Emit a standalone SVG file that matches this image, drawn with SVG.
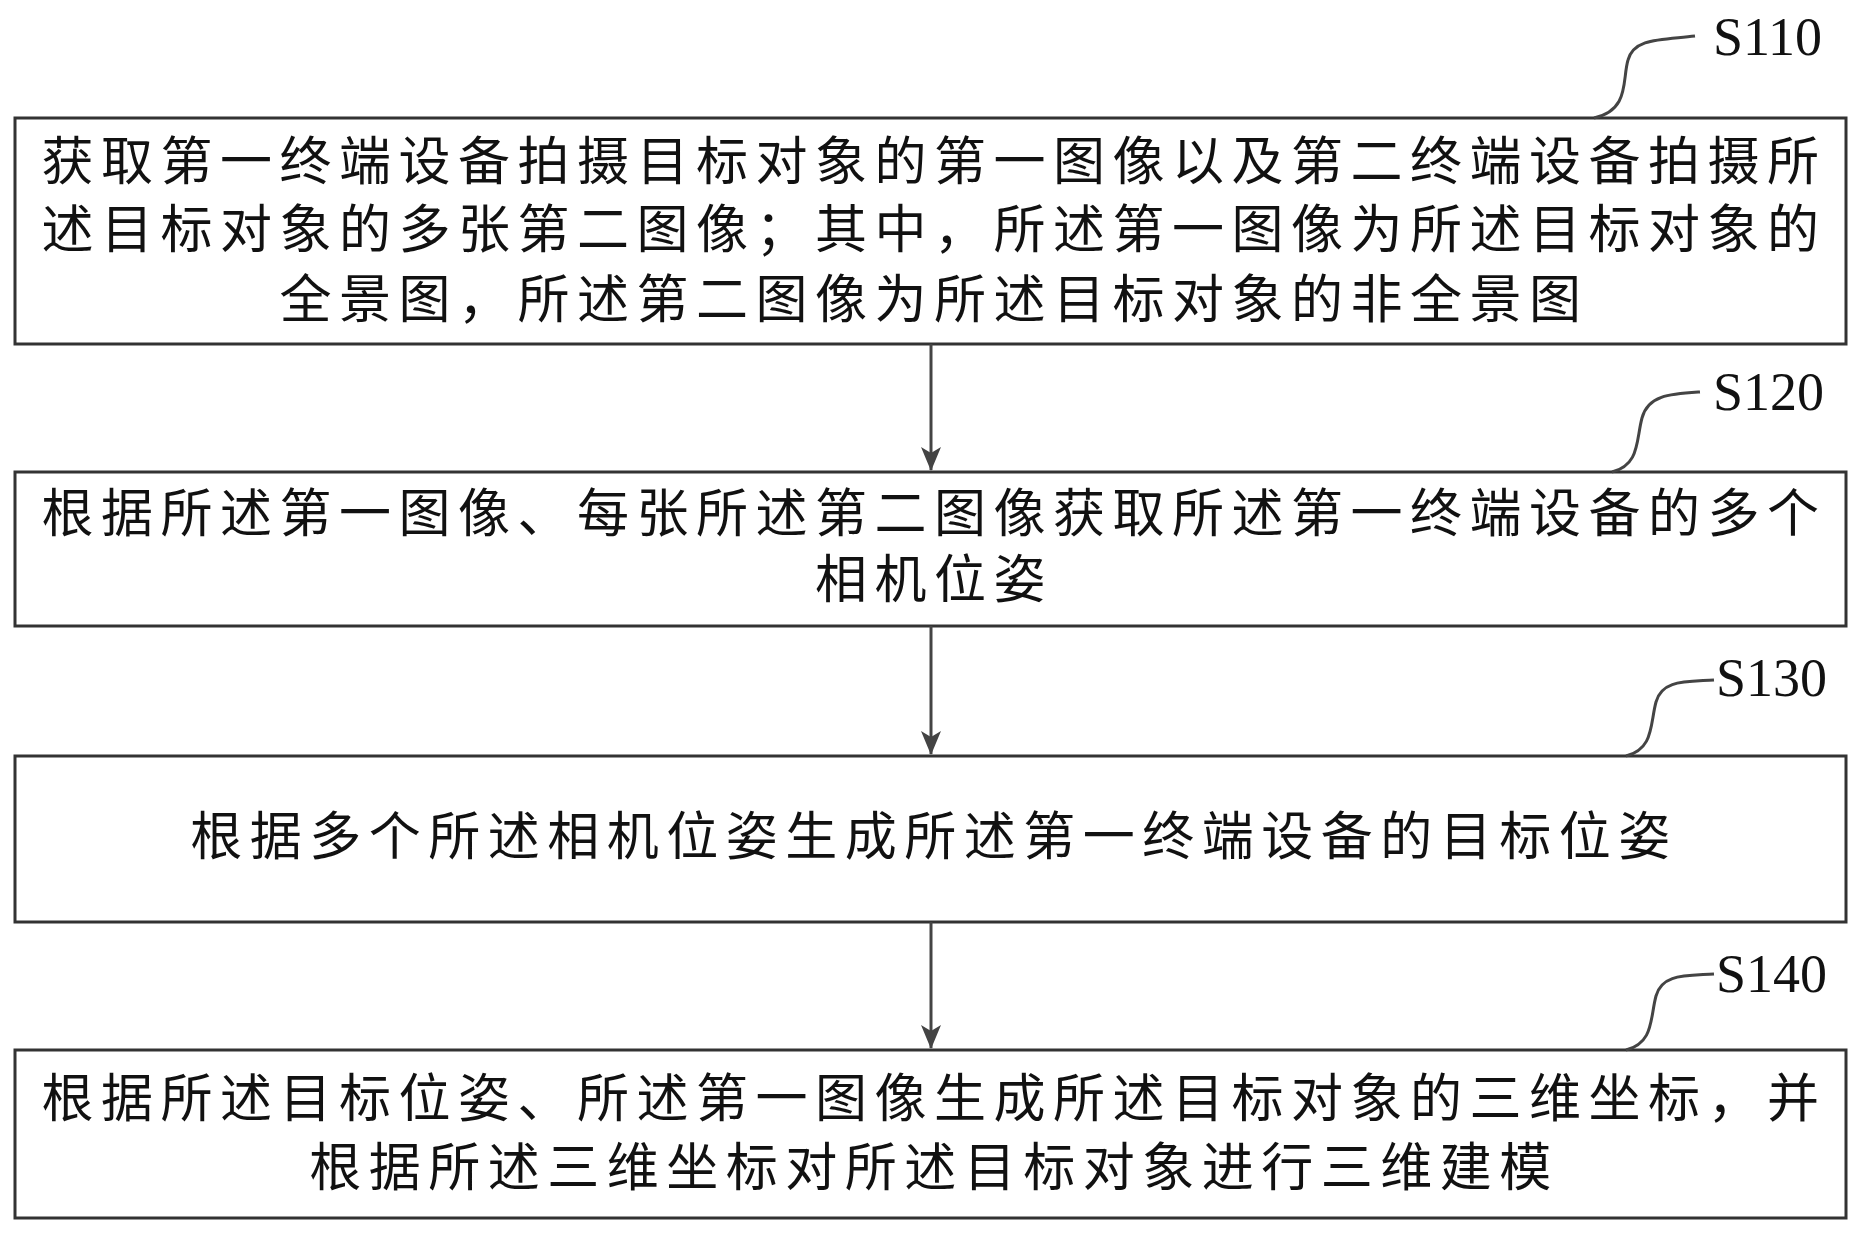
<svg xmlns="http://www.w3.org/2000/svg" width="1858" height="1235" viewBox="0 0 1858 1235">
<style>
.b{fill:#fff;stroke:#333;stroke-width:3}
.t{font-family:"Liberation Serif","Noto Sans CJK SC",serif;font-size:52px;fill:#111;text-anchor:middle;letter-spacing:7.5px}
.l{font-family:"Liberation Serif",serif;font-size:54px;fill:#111}
.c{fill:none;stroke:#444;stroke-width:3}
</style>
<defs><marker id="a" markerWidth="24" markerHeight="28" refX="23" refY="12" orient="auto" markerUnits="userSpaceOnUse" viewBox="0 0 24 24"><path d="M0,2L24,12L0,22L6,12z" fill="#444"/></marker></defs>
<rect width="1858" height="1235" fill="#fff"/>
<g id="n1"><rect class="b" x="15" y="118" width="1831" height="226"/>
<text class="t" x="934" y="180">获取第一终端设备拍摄目标对象的第一图像以及第二终端设备拍摄所</text>
<text class="t" x="934" y="248">述目标对象的多张第二图像；其中，所述第一图像为所述目标对象的</text>
<text class="t" x="934" y="318">全景图，所述第二图像为所述目标对象的非全景图</text></g>
<g id="n2"><rect class="b" x="15" y="472" width="1831" height="154"/>
<text class="t" x="934" y="532">根据所述第一图像、每张所述第二图像获取所述第一终端设备的多个</text>
<text class="t" x="934" y="598">相机位姿</text></g>
<g id="n3"><rect class="b" x="15" y="756" width="1831" height="166"/>
<text class="t" x="934" y="855">根据多个所述相机位姿生成所述第一终端设备的目标位姿</text></g>
<g id="n4"><rect class="b" x="15" y="1050" width="1831" height="168"/>
<text class="t" x="934" y="1117">根据所述目标位姿、所述第一图像生成所述目标对象的三维坐标，并</text>
<text class="t" x="934" y="1186">根据所述三维坐标对所述目标对象进行三维建模</text></g>
<g id="labels">
<text class="l" x="1713" y="55">S110</text>
<text class="l" x="1713" y="410">S120</text>
<text class="l" x="1716" y="696">S130</text>
<text class="l" x="1716" y="992">S140</text>
<path class="c" d="M1594,118 C1630,110 1622,80 1628,60 C1634,38 1660,40 1695,36"/>
<path class="c" d="M1612,472 C1640,465 1636,440 1642,418 C1648,395 1670,394 1700,392"/>
<path class="c" d="M1626,756 C1654,749 1650,724 1656,702 C1662,680 1684,682 1714,680"/>
<path class="c" d="M1626,1050 C1654,1043 1650,1018 1656,996 C1662,974 1684,976 1714,974"/>
</g>
<g id="connectors">
<line class="c" x1="931" y1="344" x2="931" y2="470" marker-end="url(#a)"/>
<line class="c" x1="931" y1="626" x2="931" y2="754" marker-end="url(#a)"/>
<line class="c" x1="931" y1="922" x2="931" y2="1048" marker-end="url(#a)"/>
</g>
</svg>
